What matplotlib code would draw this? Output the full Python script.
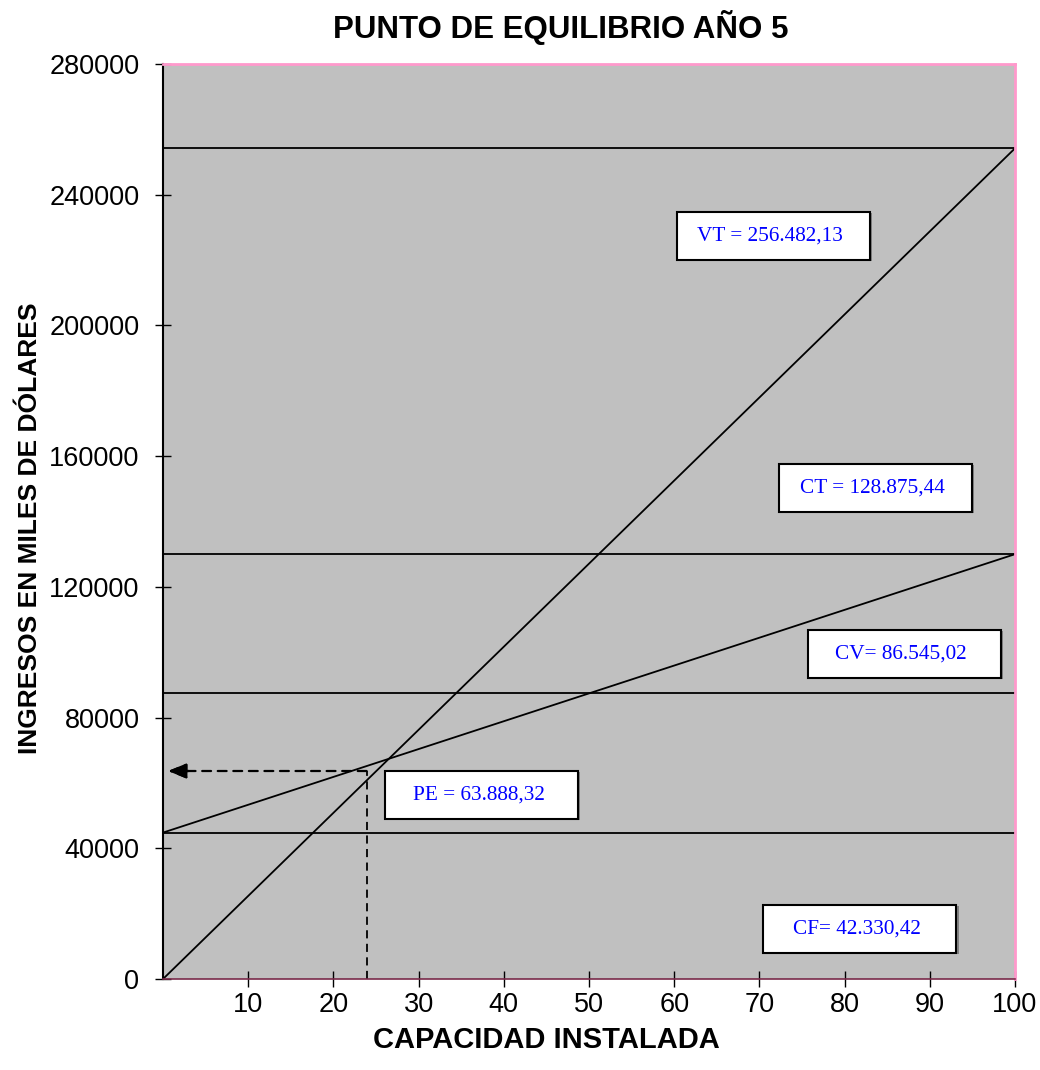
import matplotlib
matplotlib.use("Agg")
import matplotlib.pyplot as plt
from matplotlib.patches import Rectangle

# ---- data ----
title = "PUNTO DE EQUILIBRIO AÑO 5"
xlabel = "CAPACIDAD INSTALADA"
ylabel = "INGRESOS EN MILES DE DÓLARES"
x_ticks = [10, 20, 30, 40, 50, 60, 70, 80, 90, 100]
y_ticks = [0, 40000, 80000, 120000, 160000, 200000, 240000, 280000]

cap_x = [0, 100]
vt_line = [0, 254200]          # ventas totales
ct_line = [44800, 130000]      # costo total
level_lines = [254200, 130000, 87400, 44800]   # VT, CT, CV, CF horizontals

pe_x = 23.9
pe_y = 63650

labels = ["VT = 256.482,13", "CT = 128.875,44", "CV= 86.545,02",
          "PE = 63.888,32", "CF= 42.330,42"]
label_x = [71.6, 83.6, 87.0, 37.4, 81.8]
label_y = [227400, 150250, 99450, 56300, 15300]

# ---- figure ----
fig = plt.figure(figsize=(10.4, 10.7), dpi=100)
ax = fig.add_axes([163/1040, 1-979/1070, 852/1040, 915/1070])
ax.set_facecolor("#C0C0C0")
ax.set_xlim(0, 100)
ax.set_ylim(0, 280000)

lw = 1.3
for v in level_lines:
    ax.plot(cap_x, [v, v], color="black", lw=lw)
ax.plot(cap_x, vt_line, color="black", lw=lw)
ax.plot(cap_x, ct_line, color="black", lw=lw)

# PE dashed guides
ax.plot([pe_x, pe_x], [0, pe_y], color="black", lw=1.3, ls=(0, (4.5, 3)))
ax.annotate("", xy=(0.6, pe_y), xytext=(pe_x, pe_y),
            arrowprops=dict(arrowstyle="-|>,head_length=1.1,head_width=0.45",
                            color="black", lw=1.6, ls=(0, (4, 3)),
                            shrinkA=0, shrinkB=0))
ax.annotate("", xy=(0.6, pe_y), xytext=(3.0, pe_y),
            arrowprops=dict(arrowstyle="-|>,head_length=1.1,head_width=0.45",
                            color="black", lw=1.6, shrinkA=0, shrinkB=0))

# label boxes
bw, bh = 22.65, 14690
for t, cx, cy in zip(labels, label_x, label_y):
    sh = Rectangle((cx - bw/2 + 0.25, cy - bh/2 - 400), bw, bh,
                   facecolor="#808080", edgecolor="none", zorder=4)
    ax.add_patch(sh)
    r = Rectangle((cx - bw/2, cy - bh/2), bw, bh, facecolor="white",
                  edgecolor="black", lw=1.5, zorder=5)
    ax.add_patch(r)
    ax.text(cx - 0.35, cy, t, color="#0000FF", fontsize=15.3,
            family="Liberation Serif", ha="center", va="center", zorder=6)

# spines
ax.spines["left"].set_color("black")
ax.spines["left"].set_linewidth(1.5)
ax.spines["top"].set_color("#FF99CC")
ax.spines["top"].set_linewidth(2)
ax.spines["right"].set_color("#FF99CC")
ax.spines["right"].set_linewidth(2)
ax.spines["bottom"].set_color("#7a2a4a")
ax.spines["bottom"].set_linewidth(1.2)

ax.set_xticks(x_ticks)
ax.set_yticks(y_ticks)
ax.set_yticklabels([str(v) for v in y_ticks])
ax.tick_params(axis="both", direction="inout", length=12, width=1,
               labelsize=19.5, colors="black")
ax.tick_params(axis="y", pad=11)
ax.tick_params(axis="x", pad=3)
for lab in ax.get_xticklabels() + ax.get_yticklabels():
    lab.set_family("Liberation Sans")

ax.set_title(title, fontsize=22.5, fontweight="bold", family="Liberation Sans",
             pad=19, x=0.467)
ax.set_xlabel(xlabel, fontsize=21, fontweight="bold", family="Liberation Sans",
              labelpad=6, x=0.45)
ax.set_ylabel(ylabel, fontsize=19, fontweight="bold", family="Liberation Sans",
              labelpad=5, y=0.493)

fig.savefig("out.png", dpi=100)
